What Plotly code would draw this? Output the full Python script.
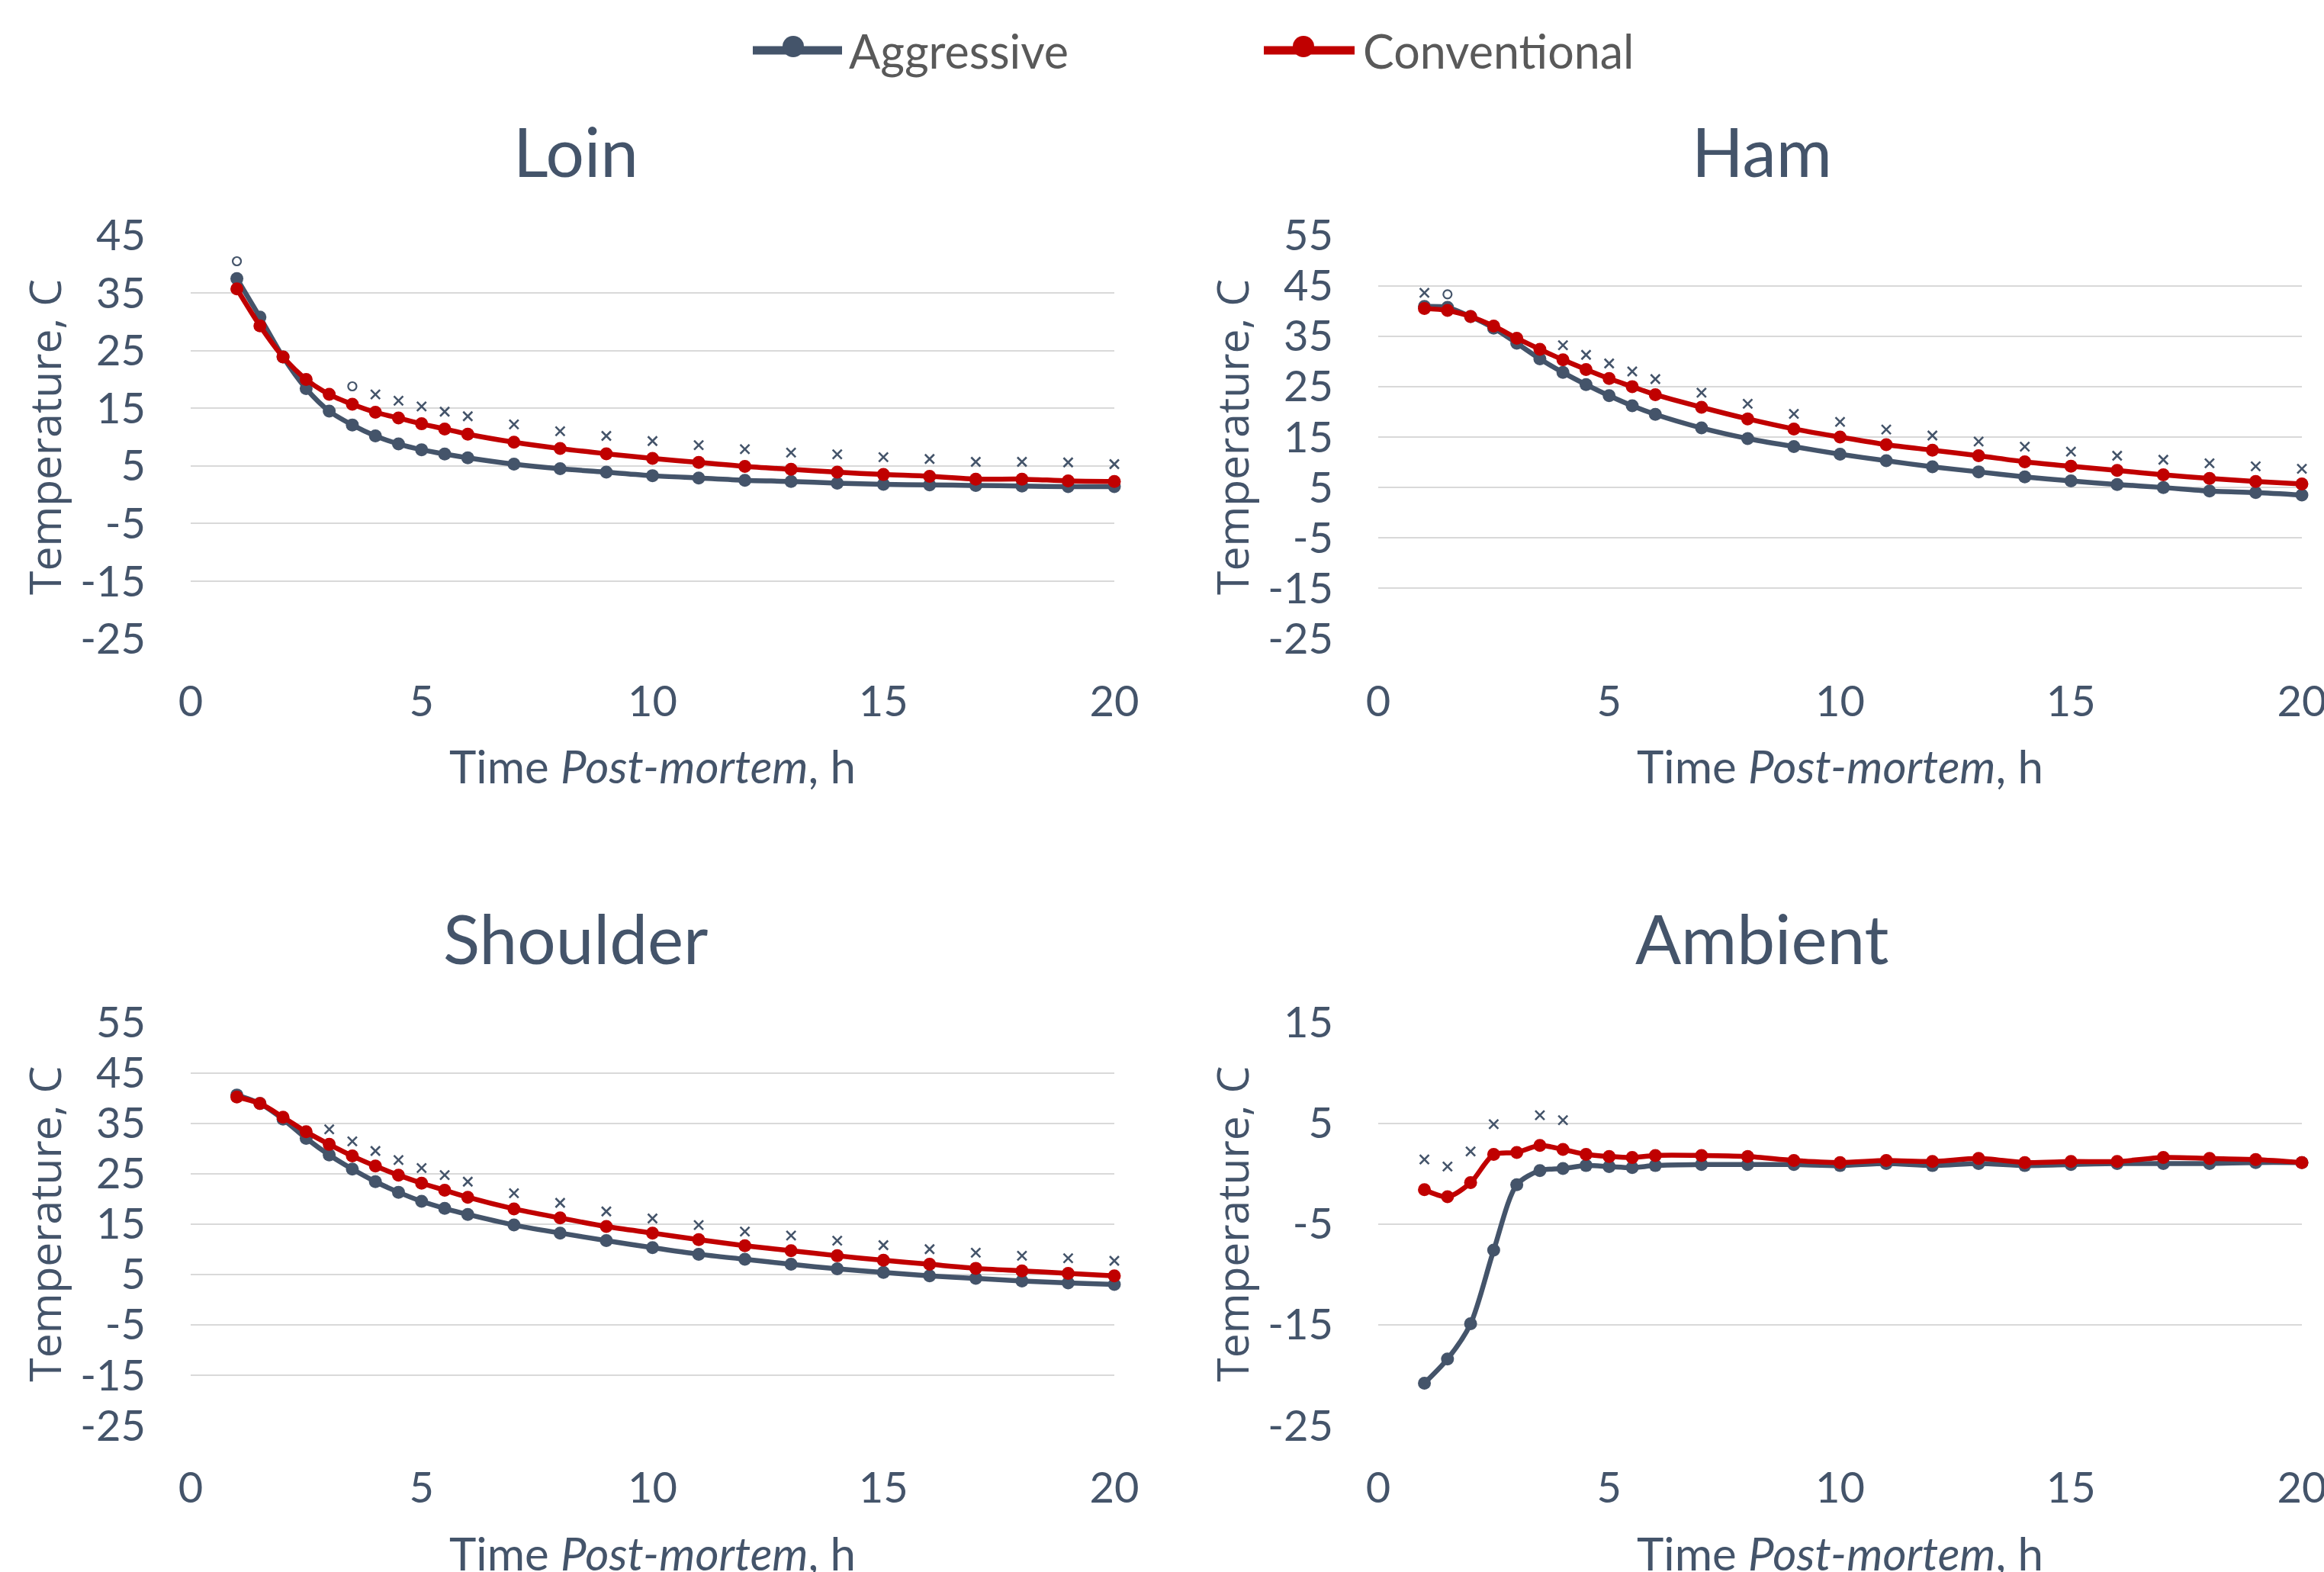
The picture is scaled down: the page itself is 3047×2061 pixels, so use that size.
import plotly.graph_objects as go

W, H = 3047, 2061

# ---------------- data ----------------
time_h = [1, 1.5, 2, 2.5, 3, 3.5, 4, 4.5, 5, 5.5, 6, 7, 8, 9, 10, 11, 12, 13, 14, 15, 16, 17, 18, 19, 20]

loin_aggressive = [37.5, 30.8, 23.9, 18.4, 14.5, 12.1, 10.2, 8.8, 7.8, 7.05, 6.4, 5.3, 4.5, 3.9, 3.3, 2.9, 2.5, 2.3, 2.0, 1.8, 1.7, 1.6, 1.5, 1.4, 1.4]
loin_conventional = [35.7, 29.3, 23.9, 20.0, 17.4, 15.7, 14.3, 13.3, 12.3, 11.4, 10.5, 9.1, 8.0, 7.1, 6.3, 5.6, 4.9, 4.4, 3.9, 3.5, 3.2, 2.7, 2.7, 2.4, 2.3]
loin_x_time = [4, 4.5, 5, 5.5, 6, 7, 8, 9, 10, 11, 12, 13, 14, 15, 16, 17, 18, 19, 20]
loin_x_val = [17.4, 16.3, 15.3, 14.4, 13.6, 12.2, 11.0, 10.2, 9.3, 8.6, 7.9, 7.3, 7.0, 6.5, 6.2, 5.7, 5.7, 5.6, 5.3]
loin_o_time = [1, 3.5]
loin_o_val = [40.5, 18.8]

ham_aggressive = [40.9, 40.7, 38.9, 36.6, 33.6, 30.5, 27.8, 25.4, 23.2, 21.2, 19.5, 16.8, 14.7, 13.1, 11.6, 10.3, 9.1, 8.1, 7.1, 6.3, 5.6, 5.0, 4.3, 4.0, 3.5]
ham_conventional = [40.5, 40.1, 38.9, 37.0, 34.6, 32.4, 30.3, 28.4, 26.6, 25.0, 23.4, 20.9, 18.6, 16.6, 15.0, 13.5, 12.4, 11.3, 10.1, 9.2, 8.4, 7.5, 6.8, 6.2, 5.7]
ham_x_time = [1, 4, 4.5, 5, 5.5, 6, 7, 8, 9, 10, 11, 12, 13, 14, 15, 16, 17, 18, 19, 20]
ham_x_val = [43.6, 33.2, 31.3, 29.6, 28.0, 26.5, 23.8, 21.6, 19.6, 18.0, 16.5, 15.3, 14.1, 13.1, 12.1, 11.3, 10.5, 9.8, 9.2, 8.7]
ham_o_time = [1.5]
ham_o_val = [43.3]

shoulder_aggressive = [40.6, 38.9, 35.8, 32.0, 28.7, 25.9, 23.4, 21.3, 19.5, 18.1, 16.9, 14.8, 13.2, 11.7, 10.3, 9.0, 8.0, 7.0, 6.1, 5.4, 4.7, 4.2, 3.7, 3.3, 3.0]
shoulder_conventional = [40.2, 38.9, 36.2, 33.3, 30.8, 28.5, 26.5, 24.7, 23.1, 21.7, 20.3, 18.0, 16.2, 14.5, 13.2, 11.9, 10.7, 9.7, 8.7, 7.8, 7.0, 6.2, 5.7, 5.2, 4.7]
shoulder_x_time = [3, 3.5, 4, 4.5, 5, 5.5, 6, 7, 8, 9, 10, 11, 12, 13, 14, 15, 16, 17, 18, 19, 20]
shoulder_x_val = [33.8, 31.4, 29.5, 27.7, 26.1, 24.7, 23.4, 21.1, 19.2, 17.5, 16.1, 14.8, 13.5, 12.7, 11.7, 10.8, 10.0, 9.3, 8.7, 8.2, 7.7]

ambient_aggressive = [-20.8, -18.4, -14.9, -7.6, -1.1, 0.3, 0.5, 0.8, 0.7, 0.6, 0.8, 0.9, 0.9, 0.9, 0.8, 1.0, 0.8, 1.0, 0.8, 0.9, 1.0, 1.0, 1.0, 1.1, 1.1]
ambient_conventional = [-1.6, -2.3, -0.9, 1.9, 2.1, 2.8, 2.4, 1.9, 1.7, 1.6, 1.8, 1.8, 1.7, 1.3, 1.1, 1.3, 1.2, 1.5, 1.1, 1.2, 1.2, 1.6, 1.5, 1.4, 1.1]
ambient_x_time = [1, 1.5, 2, 2.5, 3.5, 4]
ambient_x_val = [1.4, 0.7, 2.2, 4.9, 5.8, 5.3]

panel_titles = ["Loin", "Ham", "Shoulder", "Ambient"]
y_tick_values = [
    [-25, -15, -5, 5, 15, 25, 35, 45],
    [-25, -15, -5, 5, 15, 25, 35, 45, 55],
    [-25, -15, -5, 5, 15, 25, 35, 45, 55],
    [-25, -15, -5, 5, 15],
]
y_tick_labels = [
    ["-25", "-15", "-5", "5", "15", "25", "35", "45"],
    ["-25", "-15", "-5", "5", "15", "25", "35", "45", "55"],
    ["-25", "-15", "-5", "5", "15", "25", "35", "45", "55"],
    ["-25", "-15", "-5", "5", "15"],
]
x_ticks = [0, 5, 10, 15, 20]
x_tick_labels = ["0", "5", "10", "15", "20"]
series_names = ["Aggressive", "Conventional"]

# ---------------- style ----------------
DARK = "#44546A"
RED = "#C00000"
GRID = "#D9D9D9"
TXT = "#44546A"
LEG_TXT = "#595959"
FONT = "Lato"
YT_FONT = "Open Sans"


def px_x(p):
    return p / W


def px_y(p):
    return 1 - p / H


# plot areas in pixels: (left, right, top, bottom)
areas = [
    (250, 1461, 308.5, 837.5),
    (1807, 3018, 308.5, 837.5),
    (250, 1461, 1340.5, 1869),
    (1807, 3018, 1340.5, 1869),
]

panels = [
    (loin_aggressive, loin_conventional, loin_x_time, loin_x_val, loin_o_time, loin_o_val),
    (ham_aggressive, ham_conventional, ham_x_time, ham_x_val, ham_o_time, ham_o_val),
    (shoulder_aggressive, shoulder_conventional, shoulder_x_time, shoulder_x_val, [], []),
    (ambient_aggressive, ambient_conventional, ambient_x_time, ambient_x_val, [], []),
]

fig = go.Figure()
layout = dict(
    width=W, height=H,
    margin=dict(l=0, r=0, t=0, b=0),
    paper_bgcolor="white", plot_bgcolor="white",
    showlegend=False,
    font=dict(family=FONT, color=TXT),
)

annotations = []
shapes = []

for i, (agg, conv, xt, xv, ot, ov) in enumerate(panels):
    n = "" if i == 0 else str(i + 1)
    xa, ya = "x" + n, "y" + n
    l, r, t, b = areas[i]
    layout["xaxis" + n] = dict(
        domain=[px_x(l), px_x(r)], anchor=ya, range=[0, 20],
        tickvals=x_ticks, ticktext=x_tick_labels, showgrid=False, zeroline=False, showline=False,
        ticks="", tickfont=dict(family=FONT, size=56, color=TXT),
        ticklabelstandoff=44, ticklabeloverflow="allow", automargin=False, fixedrange=True,
    )
    y0, y1 = y_tick_values[i][0], y_tick_values[i][-1]
    layout["yaxis" + n] = dict(
        domain=[px_y(b), px_y(t)], anchor=xa, range=[y0, y1],
        tickvals=y_tick_values[i], ticktext=y_tick_labels[i],
        showgrid=True, gridcolor=GRID, gridwidth=2,
        zeroline=False, showline=False, ticks="",
        tickfont=dict(family=FONT, size=56, color=TXT),
        ticklabelstandoff=58, ticklabeloverflow="allow", automargin=False, fixedrange=True,
    )
    fig.add_trace(go.Scatter(
        x=time_h, y=agg, xaxis=xa, yaxis=ya, mode="lines+markers",
        name=series_names[0], line=dict(color=DARK, width=6.5, shape="spline", smoothing=0.8),
        marker=dict(color=DARK, size=17), cliponaxis=False,
    ))
    fig.add_trace(go.Scatter(
        x=time_h, y=conv, xaxis=xa, yaxis=ya, mode="lines+markers",
        name=series_names[1], line=dict(color=RED, width=6.5, shape="spline", smoothing=0.8),
        marker=dict(color=RED, size=17), cliponaxis=False,
    ))
    fig.add_trace(go.Scatter(
        x=xt, y=xv, xaxis=xa, yaxis=ya, mode="markers",
        marker=dict(symbol="x-thin", size=12, line=dict(color=DARK, width=2.6)),
        cliponaxis=False,
    ))
    if ot:
        fig.add_trace(go.Scatter(
            x=ot, y=ov, xaxis=xa, yaxis=ya, mode="markers",
            marker=dict(symbol="circle-open", size=11, color=DARK, line=dict(color=DARK, width=2.2)),
            cliponaxis=False,
        ))

    # panel title
    title_cx = 755 if i % 2 == 0 else 2310
    title_cy = 197 if i < 2 else 1229
    annotations.append(dict(
        text=panel_titles[i], x=px_x(title_cx), y=px_y(title_cy), xref="paper", yref="paper",
        xanchor="center", yanchor="middle", showarrow=False,
        font=dict(family=FONT, size=89, color=TXT),
    ))
    # y-axis title
    annotations.append(dict(
        text="Temperature, C", x=px_x(l - 192), y=px_y((t + b) / 2), xref="paper", yref="paper",
        xanchor="center", yanchor="middle", showarrow=False, textangle=-90,
        font=dict(family=YT_FONT, size=57, color=TXT),
    ))
    # x-axis title
    annotations.append(dict(
        text="Time <i>Post-mortem</i>, h", x=px_x((l + r) / 2), y=px_y(b + 167), xref="paper", yref="paper",
        xanchor="center", yanchor="middle", showarrow=False,
        font=dict(family=FONT, size=60, color=TXT),
    ))

# ---------------- legend (drawn by hand to match the long line samples) ----------------
legend_items = [
    (series_names[0], DARK, 987, 1104, 1040, 1111),
    (series_names[1], RED, 1657, 1776, 1709, 1785),
]
for name, col, lx0, lx1, dot_x, text_x in legend_items:
    shapes.append(dict(type="line", xref="paper", yref="paper",
                       x0=px_x(lx0), x1=px_x(lx1), y0=px_y(66), y1=px_y(66),
                       line=dict(color=col, width=11)))
    rr = 14
    shapes.append(dict(type="circle", xref="paper", yref="paper",
                       x0=px_x(dot_x - rr), x1=px_x(dot_x + rr), y0=px_y(61 + rr), y1=px_y(61 - rr),
                       fillcolor=col, line=dict(color=col, width=0)))
    annotations.append(dict(
        text=name, x=px_x(text_x), y=px_y(66), xref="paper", yref="paper",
        xanchor="left", yanchor="middle", showarrow=False,
        font=dict(family=FONT, size=61, color=LEG_TXT),
    ))

layout["annotations"] = annotations
layout["shapes"] = shapes
fig.update_layout(**layout)

fig.write_html(
    "out.html",
    config={"displayModeBar": False},
    post_script="document.body.style.margin='0px';document.body.style.overflow='hidden';",
)
